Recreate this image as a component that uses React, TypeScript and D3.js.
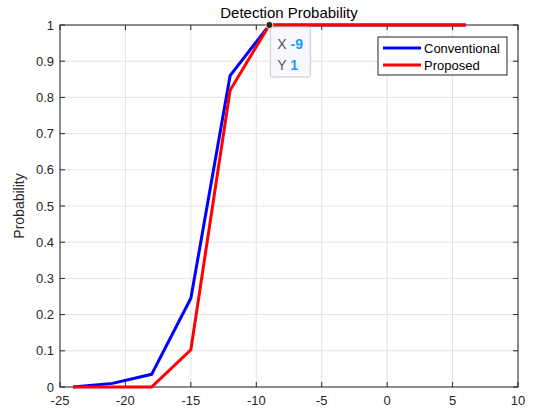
import React from 'react';
import * as d3 from 'd3';

const snr = [-24, -21, -18, -15, -12, -9, -6, -3, 0, 3, 6];
const conventional = [0, 0.01, 0.035, 0.245, 0.86, 1, 1, 1, 1, 1, 1];
const proposed = [0, 0, 0, 0.103, 0.82, 1, 1, 1, 1, 1, 1];
const xTicks = [-25, -20, -15, -10, -5, 0, 5, 10];
const yTicks = [0, 0.1, 0.2, 0.3, 0.4, 0.5, 0.6, 0.7, 0.8, 0.9, 1];
const seriesNames = ['Conventional', 'Proposed'];
const seriesColors = ['#0000ff', '#ff0000'];
const tip = { x: -9, y: 1 };

const W = 534;
const H = 414;
const m = { left: 60, right: 16, top: 25, bottom: 27 };

export default function App() {
  const x = d3.scaleLinear().domain([-25, 10]).range([m.left, W - m.right]);
  const y = d3.scaleLinear().domain([0, 1]).range([H - m.bottom, m.top]);
  const line = d3
    .line<number>()
    .x((_, i) => x(snr[i]))
    .y((d) => y(d));

  const x0 = x.range()[0];
  const x1 = x.range()[1];
  const y0 = y.range()[0];
  const y1 = y.range()[1];
  const font = 'Arial, "Liberation Sans", Helvetica, sans-serif';
  const txt = '#262626';
  const axisCol = '#262626';
  const tk = 5;

  const tx = x(tip.x);
  const ty = y(tip.y);

  return (
    <svg
      width={W}
      height={H}
      style={{ position: 'absolute', left: 0, top: 0, background: '#fff' }}
      fontFamily={font}
    >
      <rect x={0} y={0} width={W} height={H} fill="#fff" />
      {/* grid */}
      {xTicks.map((t) => (
        <line key={'gx' + t} x1={x(t)} x2={x(t)} y1={y0} y2={y1} stroke="#e3e3e3" strokeWidth={1} />
      ))}
      {yTicks.map((t) => (
        <line key={'gy' + t} x1={x0} x2={x1} y1={y(t)} y2={y(t)} stroke="#e3e3e3" strokeWidth={1} />
      ))}
      {/* box + ticks */}
      <rect x={x0} y={y1} width={x1 - x0} height={y0 - y1} fill="none" stroke={axisCol} strokeWidth={1} />
      {xTicks.map((t) => (
        <g key={'tx' + t}>
          <line x1={x(t)} x2={x(t)} y1={y0} y2={y0 - tk} stroke={axisCol} />
          <line x1={x(t)} x2={x(t)} y1={y1} y2={y1 + tk} stroke={axisCol} />
          <text x={x(t)} y={y0 + 18} textAnchor="middle" fontSize={13} fill={txt}>
            {t}
          </text>
        </g>
      ))}
      {yTicks.map((t) => (
        <g key={'ty' + t}>
          <line x1={x0} x2={x0 + tk} y1={y(t)} y2={y(t)} stroke={axisCol} />
          <line x1={x1} x2={x1 - tk} y1={y(t)} y2={y(t)} stroke={axisCol} />
          <text x={x0 - 6} y={y(t) + 4.5} textAnchor="end" fontSize={13} fill={txt}>
            {t}
          </text>
        </g>
      ))}
      {/* series */}
      <path d={line(conventional) || ''} fill="none" stroke={seriesColors[0]} strokeWidth={3} strokeLinejoin="miter" />
      <path d={line(proposed) || ''} fill="none" stroke={seriesColors[1]} strokeWidth={3} strokeLinejoin="miter" />
      {/* labels */}
      <text x={(x0 + x1) / 2} y={18} textAnchor="middle" fontSize={15} fill="#000">
        Detection Probability
      </text>
      <text
        transform={`translate(24,${(y0 + y1) / 2}) rotate(-90)`}
        textAnchor="middle"
        fontSize={14}
        fill={txt}
      >
        Probability
      </text>
      {/* legend */}
      <g>
        <rect x={378} y={37} width={129} height={38} fill="#fff" stroke={axisCol} strokeWidth={1} />
        {seriesNames.map((n, i) => (
          <g key={n}>
            <line x1={383} x2={421} y1={48 + i * 17} y2={48 + i * 17} stroke={seriesColors[i]} strokeWidth={3} />
            <text x={424} y={52.5 + i * 17} fontSize={13} fill="#000">
              {n}
            </text>
          </g>
        ))}
      </g>
      {/* data tip */}
      <g>
        <rect x={tx + 1} y={ty + 2} width={40} height={50} rx={2} fill="#f8f9ff" stroke="#c8c8c8" strokeWidth={1} />
        <text x={tx + 8} y={ty + 24} fontSize={14} fill="#555">
          X <tspan fill="#1a9bff" fontWeight="bold">{tip.x}</tspan>
        </text>
        <text x={tx + 8} y={ty + 45} fontSize={14} fill="#555">
          Y <tspan fill="#1a9bff" fontWeight="bold">{tip.y}</tspan>
        </text>
        <circle cx={tx} cy={ty} r={3.5} fill="#222" stroke="#f5e6a8" strokeWidth={1} />
      </g>
    </svg>
  );
}
